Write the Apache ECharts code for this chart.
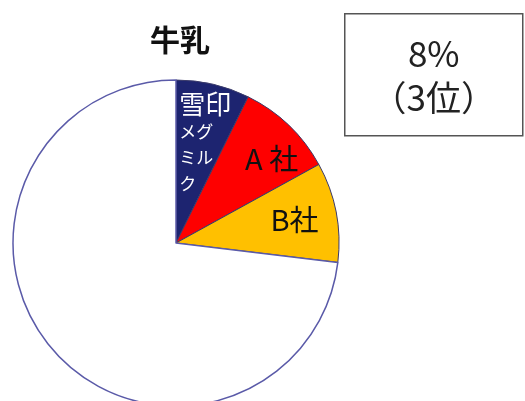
<!DOCTYPE html>
<html><head><meta charset="utf-8">
<script src="https://cdn.jsdelivr.net/npm/echarts@6/dist/echarts.min.js"></script>
<style>html,body{margin:0;padding:0;background:#fff}#c{width:525px;height:401px}</style>
</head><body><div id="c"></div>
<script>
const categories = ['雪印メグミルク', 'A社', 'B社', 'その他'];
const values = [7.3, 9.7, 9.9, 73.1];
const colors = ['#1d2470', '#fe0000', '#ffc000', '#ffffff'];
const title = '牛乳';
const boxLines = ['8%', '（3位）'];

const CX = 176, CY = 243, R = 163;
const FONT = '"Noto Sans CJK JP", "Noto Sans", sans-serif';
const total = values.reduce((a, b) => a + b, 0);
const radFrac = [0.63, 0.78, 0.74, 0];
const angNudge = [0, 5, 0, 0];

function labelPos(i) {
  let cum = 0;
  for (let k = 0; k < i; k++) cum += values[k];
  const mid = (90 - (cum + values[i] / 2) / total * 360 - angNudge[i]) * Math.PI / 180;
  const rr = R * radFrac[i];
  return [CX + rr * Math.cos(mid), CY - rr * Math.sin(mid)];
}

const labelFmt = [
  '{a|雪印}\n{b|メグ\nミル\nク}',
  '{c|A 社}',
  '{c|B社}',
  ''
];

const chart = echarts.init(document.getElementById('c'));
chart.setOption({
  animation: false,
  title: {
    text: title, left: 175, top: 20, textAlign: 'center',
    textStyle: { fontFamily: FONT, fontSize: 30, fontWeight: 'bold', color: '#111' }
  },
  graphic: [{
    type: 'group', left: 344, top: 13,
    children: [
      { type: 'rect', shape: { x: 0, y: 0, width: 178, height: 122 },
        style: { fill: '#fff', stroke: '#555', lineWidth: 1.5 } },
      { type: 'text', x: 89, y: 40, style: { text: boxLines[0], fill: '#222',
        font: '35px ' + FONT, textAlign: 'center', textVerticalAlign: 'middle' } },
      { type: 'text', x: 89, y: 84, style: { text: boxLines[1], fill: '#222',
        font: '35px ' + FONT, textAlign: 'center', textVerticalAlign: 'middle' } }
    ]
  }],
  series: [{
    type: 'pie',
    center: [CX, CY],
    radius: R,
    startAngle: 90,
    clockwise: true,
    avoidLabelOverlap: false,
    labelLine: { show: false },
    data: categories.map((n, i) => ({
      name: n, value: values[i],
      itemStyle: { color: colors[i], borderColor: i === 3 ? '#5a5aa8' : '#3a3a6a', borderWidth: i === 3 ? 1.5 : 1 },
      label: { show: i < 3, position: 'inside', formatter: labelFmt[i] }
    })),
    label: {
      rich: {
        a: { fontFamily: FONT, fontSize: 26, color: '#fff', lineHeight: 30, align: 'left' },
        b: { fontFamily: FONT, fontSize: 17, color: '#fff', lineHeight: 26, align: 'left' },
        c: { fontFamily: FONT, fontSize: 29, color: '#111', lineHeight: 32 }
      }
    },
    labelLayout: function (p) {
      const i = p.dataIndex;
      if (i > 2) return {};
      const pos = labelPos(i);
      if (i === 0) return { x: pos[0] - 20, y: pos[1], align: 'left', verticalAlign: 'middle' };
      return { x: pos[0], y: pos[1], align: 'center', verticalAlign: 'middle' };
    }
  }]
});
</script></body></html>
